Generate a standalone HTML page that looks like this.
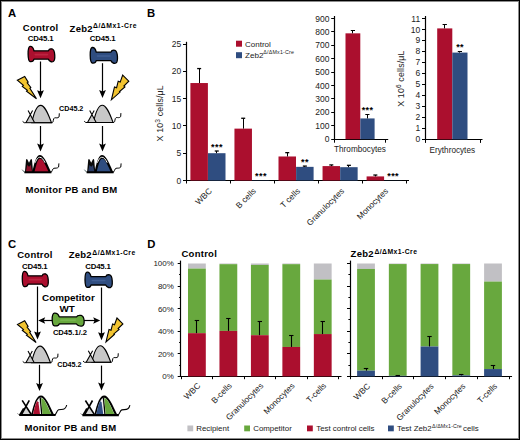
<!DOCTYPE html>
<html><head><meta charset="utf-8"><style>
html,body{margin:0;padding:0;background:#fff;}
#c{position:relative;width:520px;height:440px;overflow:hidden;background:#fff;}
#c svg{position:absolute;left:0;top:0;}
#b{position:absolute;left:0;top:0;width:520px;height:440px;box-sizing:border-box;border:1px solid #000;}
#b2{position:absolute;left:1px;top:1px;width:518px;height:438px;box-sizing:border-box;border:1px solid #8c8c8c;}
</style></head><body><div id="c">
<svg width="520" height="440" viewBox="0 0 520 440" font-family='"Liberation Sans", sans-serif'>
<text x="8" y="16.5" font-size="11.3" font-weight="bold" text-anchor="start" fill="#000" >A</text>
<text x="40.6" y="31" font-size="9.5" font-weight="bold" text-anchor="middle" fill="#000" letter-spacing="0.25">Control</text>
<text x="40.6" y="40.7" font-size="7.8" font-weight="bold" text-anchor="middle" fill="#000" letter-spacing="-0.15">CD45.1</text>
<text x="69.6" y="31.5" font-size="9.5" font-weight="bold" text-anchor="start" fill="#000" letter-spacing="0.25">Zeb2</text>
<text x="93.0" y="28.2" font-size="6.8" font-weight="bold" text-anchor="start" fill="#000" letter-spacing="0.55">Δ/ΔMx1-Cre</text>
<text x="102.6" y="40.8" font-size="7.8" font-weight="bold" text-anchor="middle" fill="#000" letter-spacing="-0.15">CD45.1</text>
<path d="M30.03,46.30 C33.06,46.00 33.56,49.00 33.97,50.80 L48.43,50.80 C48.93,49.00 50.45,48.60 52.27,49.00 C55.20,50.00 55.61,60.20 53.28,61.50 C51.36,62.40 49.14,61.00 48.43,59.20 L33.97,59.20 C33.56,61.00 32.15,61.80 30.13,61.50 C27.50,61.00 27.40,46.80 30.03,46.30 Z" fill="#ab0f2e" stroke="#000" stroke-width="1.3" stroke-linejoin="round"/>
<path d="M35.28,54.60 L47.42,54.60" stroke="#c7354f" stroke-width="1.60" stroke-linecap="round" opacity="0.6"/>
<path d="M92.18,47.51 C95.28,47.20 95.79,50.26 96.21,52.09 L110.98,52.09 C111.50,50.26 113.05,49.85 114.91,50.26 C117.91,51.28 118.32,61.67 115.94,62.99 C113.98,63.91 111.71,62.48 110.98,60.65 L96.21,60.65 C95.79,62.48 94.35,63.30 92.28,62.99 C89.59,62.48 89.49,48.02 92.18,47.51 Z" fill="#2f4d80" stroke="#000" stroke-width="1.3" stroke-linejoin="round"/>
<path d="M97.55,55.96 L109.95,55.96" stroke="#4d6ca3" stroke-width="1.63" stroke-linecap="round" opacity="0.6"/>
<line x1="40.50" y1="61.50" x2="40.50" y2="92.20" stroke="#000" stroke-width="1.2"/>
<path d="M37.1,90.2 L40.5,98.2 L43.9,90.2 L40.5,91.60000000000001 Z" fill="#000"/>
<line x1="102.50" y1="63.20" x2="102.50" y2="92.00" stroke="#000" stroke-width="1.2"/>
<path d="M99.1,90.0 L102.5,98.0 L105.9,90.0 L102.5,91.4 Z" fill="#000"/>
<polygon points="17.30,80.20 24.70,76.40 28.20,82.20 27.20,82.90 30.80,87.50 29.90,88.30 36.50,98.80 26.50,91.20 27.40,90.30 22.30,86.40 23.40,85.30" fill="#f2c431" stroke="#000" stroke-width="1.1" stroke-linejoin="miter"/>
<polygon points="122.70,75.10 128.80,81.20 123.90,86.00 124.90,86.90 119.50,91.50 120.10,92.10 111.40,99.80 114.50,86.90 116.60,87.70 118.20,81.20 120.20,82.10" fill="#f2c431" stroke="#000" stroke-width="1.1" stroke-linejoin="miter"/>
<path d="M31.80,122.70 C34.50,110.00 37.00,105.40 40.70,105.40 C44.50,105.40 47.50,112.00 51.50,122.70 Z" fill="#c8c8c8" stroke="#000" stroke-width="1.1"/>
<path d="M25.90,122.70 L30.40,115.20 L34.40,122.70 Z" fill="#c8c8c8" stroke="none"/>
<path d="M25.90,122.70 L32.60,110.60 M28.10,110.60 L34.60,122.70" fill="none" stroke="#000" stroke-width="1.1"/>
<path d="M22.60,121.40 L24.20,122.70 L52.20,122.70 C53.60,122.60 53.00,118.20 54.60,117.80 C56.20,117.50 57.40,118.60 59.10,116.80 L59.30,113.30" fill="none" stroke="#000" stroke-width="1.0"/>
<path d="M93.40,122.50 C96.10,109.80 98.60,105.20 102.30,105.20 C106.10,105.20 109.10,111.80 113.10,122.50 Z" fill="#c8c8c8" stroke="#000" stroke-width="1.1"/>
<path d="M87.50,122.50 L92.00,115.00 L96.00,122.50 Z" fill="#c8c8c8" stroke="none"/>
<path d="M87.50,122.50 L94.20,110.40 M89.70,110.40 L96.20,122.50" fill="none" stroke="#000" stroke-width="1.1"/>
<path d="M84.20,121.20 L85.80,122.50 L113.80,122.50 C115.20,122.40 114.60,118.00 116.20,117.60 C117.80,117.30 119.00,118.40 120.70,116.60 L120.90,113.10" fill="none" stroke="#000" stroke-width="1.0"/>
<text x="59" y="111.2" font-size="7.2" font-weight="bold" text-anchor="start" fill="#000" >CD45.2</text>
<line x1="40.50" y1="126.00" x2="40.50" y2="145.50" stroke="#000" stroke-width="1.2"/>
<path d="M37.1,143.5 L40.5,151.5 L43.9,143.5 L40.5,144.9 Z" fill="#000"/>
<line x1="102.50" y1="126.00" x2="102.50" y2="145.50" stroke="#000" stroke-width="1.2"/>
<path d="M99.1,143.5 L102.5,151.5 L105.9,143.5 L102.5,144.9 Z" fill="#000"/>
<path d="M32.20,172.30 C35.00,159.90 36.80,155.10 39.80,155.10 C43.20,155.10 46.20,161.00 51.00,172.30 Z" fill="#000"/>
<path d="M34.40,172.30 C36.60,162.70 38.10,158.70 40.00,158.70 C42.40,158.70 44.60,162.90 48.70,172.30 Z" fill="#ab0f2e"/>
<path d="M35.20,162.70 C36.90,158.40 38.30,157.30 39.90,157.30 C41.80,157.30 43.30,159.30 45.00,162.70" fill="none" stroke="#fff" stroke-width="1.0"/>
<path d="M24.90,172.30 L26.00,159.90 C26.20,158.90 27.20,158.90 27.50,159.70 L29.00,162.70 L30.50,159.70 C30.80,158.90 31.80,158.90 32.00,159.90 L33.10,172.30 Z" fill="#0a0a0a"/>
<path d="M25.90,171.70 L27.20,165.10 L29.00,166.70 L30.80,165.10 L32.10,171.70 Z" fill="#8a1028"/>
<path d="M22.20,169.70 L24.50,172.30" fill="none" stroke="#4a6060" stroke-width="0.9"/>
<path d="M24.40,172.30 L51.40,172.30" fill="none" stroke="#000" stroke-width="2.0"/>
<path d="M50.60,172.30 C52.40,172.30 52.20,168.70 53.80,168.30 C55.40,167.90 57.00,168.70 58.60,167.00 L58.90,163.40" fill="none" stroke="#000" stroke-width="1.0"/>
<path d="M94.40,172.30 C97.20,159.90 99.00,155.10 102.00,155.10 C105.40,155.10 108.40,161.00 113.20,172.30 Z" fill="#000"/>
<path d="M96.60,172.30 C98.80,162.70 100.30,158.70 102.20,158.70 C104.60,158.70 106.80,162.90 110.90,172.30 Z" fill="#2f4d80"/>
<path d="M97.40,162.70 C99.10,158.40 100.50,157.30 102.10,157.30 C104.00,157.30 105.50,159.30 107.20,162.70" fill="none" stroke="#fff" stroke-width="1.0"/>
<path d="M87.10,172.30 L88.20,159.90 C88.40,158.90 89.40,158.90 89.70,159.70 L91.20,162.70 L92.70,159.70 C93.00,158.90 94.00,158.90 94.20,159.90 L95.30,172.30 Z" fill="#0a0a0a"/>
<path d="M88.10,171.70 L89.40,165.10 L91.20,166.70 L93.00,165.10 L94.30,171.70 Z" fill="#2a3c66"/>
<path d="M84.40,169.70 L86.70,172.30" fill="none" stroke="#4a6060" stroke-width="0.9"/>
<path d="M86.60,172.30 L113.60,172.30" fill="none" stroke="#000" stroke-width="2.0"/>
<path d="M112.80,172.30 C114.60,172.30 114.40,168.70 116.00,168.30 C117.60,167.90 119.20,168.70 120.80,167.00 L121.10,163.40" fill="none" stroke="#000" stroke-width="1.0"/>
<text x="71.5" y="193.3" font-size="9.5" font-weight="bold" text-anchor="middle" fill="#000" letter-spacing="0.25">Monitor PB and BM</text>
<text x="147" y="16.6" font-size="11.3" font-weight="bold" text-anchor="start" fill="#000" >B</text>
<line x1="186.50" y1="41.80" x2="186.50" y2="181.00" stroke="#000" stroke-width="1.2"/>
<line x1="185.40" y1="180.50" x2="409.00" y2="180.50" stroke="#000" stroke-width="1.2"/>
<line x1="183.00" y1="180.50" x2="186.00" y2="180.50" stroke="#000" stroke-width="1.0"/>
<text x="181.2" y="183.5" font-size="8.5" text-anchor="end" fill="#222" >0</text>
<line x1="183.00" y1="153.50" x2="186.00" y2="153.50" stroke="#000" stroke-width="1.0"/>
<text x="181.2" y="156.2" font-size="8.5" text-anchor="end" fill="#222" >5</text>
<line x1="183.00" y1="125.50" x2="186.00" y2="125.50" stroke="#000" stroke-width="1.0"/>
<text x="181.2" y="128.9" font-size="8.5" text-anchor="end" fill="#222" >10</text>
<line x1="183.00" y1="98.50" x2="186.00" y2="98.50" stroke="#000" stroke-width="1.0"/>
<text x="181.2" y="101.6" font-size="8.5" text-anchor="end" fill="#222" >15</text>
<line x1="183.00" y1="71.50" x2="186.00" y2="71.50" stroke="#000" stroke-width="1.0"/>
<text x="181.2" y="74.3" font-size="8.5" text-anchor="end" fill="#222" >20</text>
<line x1="183.00" y1="44.50" x2="186.00" y2="44.50" stroke="#000" stroke-width="1.0"/>
<text x="181.2" y="47.0" font-size="8.5" text-anchor="end" fill="#222" >25</text>
<line x1="186.50" y1="180.50" x2="186.50" y2="183.50" stroke="#000" stroke-width="1.0"/>
<line x1="230.50" y1="180.50" x2="230.50" y2="183.50" stroke="#000" stroke-width="1.0"/>
<line x1="274.50" y1="180.50" x2="274.50" y2="183.50" stroke="#000" stroke-width="1.0"/>
<line x1="318.50" y1="180.50" x2="318.50" y2="183.50" stroke="#000" stroke-width="1.0"/>
<line x1="362.50" y1="180.50" x2="362.50" y2="183.50" stroke="#000" stroke-width="1.0"/>
<line x1="406.50" y1="180.50" x2="406.50" y2="183.50" stroke="#000" stroke-width="1.0"/>
<rect x="190.40" y="83.04" width="17.50" height="97.46" fill="#ab0f2e"/>
<rect x="208.00" y="153.20" width="17.50" height="27.30" fill="#2f4d80"/>
<line x1="199.50" y1="68.57" x2="199.50" y2="83.04" stroke="#000" stroke-width="1.0"/>
<line x1="197.15" y1="68.57" x2="201.15" y2="68.57" stroke="#000" stroke-width="1.3"/>
<line x1="216.50" y1="151.02" x2="216.50" y2="153.20" stroke="#000" stroke-width="1.0"/>
<line x1="214.75" y1="151.02" x2="218.75" y2="151.02" stroke="#000" stroke-width="1.3"/>
<text x="216.95" y="149.9" font-size="9" font-weight="bold" text-anchor="middle" fill="#000" letter-spacing="0.45">***</text>
<rect x="234.45" y="128.63" width="17.50" height="51.87" fill="#ab0f2e"/>
<rect x="252.05" y="180.23" width="17.50" height="0.27" fill="#2f4d80"/>
<line x1="243.50" y1="118.26" x2="243.50" y2="128.63" stroke="#000" stroke-width="1.0"/>
<line x1="241.20" y1="118.26" x2="245.20" y2="118.26" stroke="#000" stroke-width="1.3"/>
<text x="261.0" y="179.4" font-size="9" font-weight="bold" text-anchor="middle" fill="#000" letter-spacing="0.45">***</text>
<rect x="278.50" y="156.48" width="17.50" height="24.02" fill="#ab0f2e"/>
<rect x="296.10" y="166.85" width="17.50" height="13.65" fill="#2f4d80"/>
<line x1="287.50" y1="152.65" x2="287.50" y2="156.48" stroke="#000" stroke-width="1.0"/>
<line x1="285.25" y1="152.65" x2="289.25" y2="152.65" stroke="#000" stroke-width="1.3"/>
<line x1="304.50" y1="166.09" x2="304.50" y2="166.85" stroke="#000" stroke-width="1.0"/>
<line x1="302.85" y1="166.09" x2="306.85" y2="166.09" stroke="#000" stroke-width="1.3"/>
<text x="305.05" y="165.1" font-size="9" font-weight="bold" text-anchor="middle" fill="#000" letter-spacing="0.45">**</text>
<rect x="322.55" y="166.09" width="17.50" height="14.41" fill="#ab0f2e"/>
<rect x="340.15" y="167.18" width="17.50" height="13.32" fill="#2f4d80"/>
<line x1="331.50" y1="164.94" x2="331.50" y2="166.09" stroke="#000" stroke-width="1.0"/>
<line x1="329.30" y1="164.94" x2="333.30" y2="164.94" stroke="#000" stroke-width="1.3"/>
<line x1="348.50" y1="165.32" x2="348.50" y2="167.18" stroke="#000" stroke-width="1.0"/>
<line x1="346.90" y1="165.32" x2="350.90" y2="165.32" stroke="#000" stroke-width="1.3"/>
<rect x="366.60" y="176.41" width="17.50" height="4.09" fill="#ab0f2e"/>
<rect x="384.20" y="180.34" width="17.50" height="0.16" fill="#2f4d80"/>
<line x1="375.50" y1="175.04" x2="375.50" y2="176.41" stroke="#000" stroke-width="1.0"/>
<line x1="373.35" y1="175.04" x2="377.35" y2="175.04" stroke="#000" stroke-width="1.3"/>
<text x="393.15" y="179.4" font-size="9" font-weight="bold" text-anchor="middle" fill="#000" letter-spacing="0.45">***</text>
<text x="0" y="0" font-size="8.3" text-anchor="end" fill="#222" transform="translate(212.50,191.6) rotate(-45)">WBC</text>
<text x="0" y="0" font-size="8.3" text-anchor="end" fill="#222" transform="translate(256.55,191.6) rotate(-45)">B cells</text>
<text x="0" y="0" font-size="8.3" text-anchor="end" fill="#222" transform="translate(300.60,191.6) rotate(-45)">T cells</text>
<text x="0" y="0" font-size="8.3" text-anchor="end" fill="#222" transform="translate(344.65,191.6) rotate(-45)">Granulocytes</text>
<text x="0" y="0" font-size="8.3" text-anchor="end" fill="#222" transform="translate(388.70,191.6) rotate(-45)">Monocytes</text>
<text x="0" y="0" font-size="8.8" letter-spacing="0.15" text-anchor="middle" fill="#222" transform="translate(163.4,113.3) rotate(-90)">X 10<tspan dy="-3.4" font-size="6.6">3</tspan><tspan dy="3.4"> cells/μL</tspan></text>
<rect x="236.00" y="40.70" width="6.00" height="6.00" fill="#ab0f2e"/>
<text x="245" y="46.5" font-size="8.0" text-anchor="start" fill="#222" >Control</text>
<rect x="236.00" y="52.20" width="6.00" height="6.00" fill="#2f4d80"/>
<text x="245" y="58.0" font-size="8.1" text-anchor="start" fill="#222" >Zeb2</text>
<text x="263.3" y="54.4" font-size="5.3" text-anchor="start" fill="#222" letter-spacing="0.2">Δ/ΔMx1-Cre</text>
<line x1="334.50" y1="16.00" x2="334.50" y2="139.70" stroke="#000" stroke-width="1.2"/>
<line x1="333.60" y1="139.50" x2="388.20" y2="139.50" stroke="#000" stroke-width="1.2"/>
<line x1="331.20" y1="139.50" x2="334.20" y2="139.50" stroke="#000" stroke-width="1.0"/>
<text x="329.4" y="142.2" font-size="8.5" text-anchor="end" fill="#222" >0</text>
<line x1="331.20" y1="125.50" x2="334.20" y2="125.50" stroke="#000" stroke-width="1.0"/>
<text x="329.4" y="128.79999999999998" font-size="8.5" text-anchor="end" fill="#222" >100</text>
<line x1="331.20" y1="112.50" x2="334.20" y2="112.50" stroke="#000" stroke-width="1.0"/>
<text x="329.4" y="115.39999999999999" font-size="8.5" text-anchor="end" fill="#222" >200</text>
<line x1="331.20" y1="98.50" x2="334.20" y2="98.50" stroke="#000" stroke-width="1.0"/>
<text x="329.4" y="101.99999999999999" font-size="8.5" text-anchor="end" fill="#222" >300</text>
<line x1="331.20" y1="85.50" x2="334.20" y2="85.50" stroke="#000" stroke-width="1.0"/>
<text x="329.4" y="88.6" font-size="8.5" text-anchor="end" fill="#222" >400</text>
<line x1="331.20" y1="72.50" x2="334.20" y2="72.50" stroke="#000" stroke-width="1.0"/>
<text x="329.4" y="75.19999999999999" font-size="8.5" text-anchor="end" fill="#222" >500</text>
<line x1="331.20" y1="58.50" x2="334.20" y2="58.50" stroke="#000" stroke-width="1.0"/>
<text x="329.4" y="61.79999999999998" font-size="8.5" text-anchor="end" fill="#222" >600</text>
<line x1="331.20" y1="45.50" x2="334.20" y2="45.50" stroke="#000" stroke-width="1.0"/>
<text x="329.4" y="48.39999999999998" font-size="8.5" text-anchor="end" fill="#222" >700</text>
<line x1="331.20" y1="31.50" x2="334.20" y2="31.50" stroke="#000" stroke-width="1.0"/>
<text x="329.4" y="34.999999999999986" font-size="8.5" text-anchor="end" fill="#222" >800</text>
<line x1="331.20" y1="18.50" x2="334.20" y2="18.50" stroke="#000" stroke-width="1.0"/>
<text x="329.4" y="21.59999999999998" font-size="8.5" text-anchor="end" fill="#222" >900</text>
<line x1="385.50" y1="139.20" x2="385.50" y2="142.70" stroke="#000" stroke-width="1.0"/>
<line x1="334.50" y1="139.20" x2="334.50" y2="142.70" stroke="#000" stroke-width="1.0"/>
<rect x="345.50" y="33.34" width="14.80" height="105.86" fill="#ab0f2e"/>
<rect x="360.30" y="118.43" width="14.30" height="20.77" fill="#2f4d80"/>
<line x1="352.50" y1="30.66" x2="352.50" y2="33.34" stroke="#000" stroke-width="1.0"/>
<line x1="350.80" y1="30.50" x2="355.00" y2="30.50" stroke="#000" stroke-width="1.0"/>
<line x1="367.50" y1="114.01" x2="367.50" y2="118.43" stroke="#000" stroke-width="1.0"/>
<line x1="365.30" y1="114.50" x2="369.50" y2="114.50" stroke="#000" stroke-width="1.0"/>
<text x="367.6" y="112.60000000000001" font-size="9" font-weight="bold" text-anchor="middle" fill="#000" letter-spacing="0.45">***</text>
<text x="360" y="152.4" font-size="8.2" text-anchor="middle" fill="#222" >Thrombocytes</text>
<line x1="425.50" y1="16.00" x2="425.50" y2="139.90" stroke="#000" stroke-width="1.2"/>
<line x1="424.40" y1="139.50" x2="482.50" y2="139.50" stroke="#000" stroke-width="1.2"/>
<line x1="422.00" y1="139.50" x2="425.00" y2="139.50" stroke="#000" stroke-width="1.0"/>
<text x="420.2" y="142.4" font-size="8.5" text-anchor="end" fill="#222" >0</text>
<line x1="422.00" y1="128.50" x2="425.00" y2="128.50" stroke="#000" stroke-width="1.0"/>
<text x="420.2" y="131.41" font-size="8.5" text-anchor="end" fill="#222" >1</text>
<line x1="422.00" y1="117.50" x2="425.00" y2="117.50" stroke="#000" stroke-width="1.0"/>
<text x="420.2" y="120.42" font-size="8.5" text-anchor="end" fill="#222" >2</text>
<line x1="422.00" y1="106.50" x2="425.00" y2="106.50" stroke="#000" stroke-width="1.0"/>
<text x="420.2" y="109.43" font-size="8.5" text-anchor="end" fill="#222" >3</text>
<line x1="422.00" y1="95.50" x2="425.00" y2="95.50" stroke="#000" stroke-width="1.0"/>
<text x="420.2" y="98.44" font-size="8.5" text-anchor="end" fill="#222" >4</text>
<line x1="422.00" y1="84.50" x2="425.00" y2="84.50" stroke="#000" stroke-width="1.0"/>
<text x="420.2" y="87.45" font-size="8.5" text-anchor="end" fill="#222" >5</text>
<line x1="422.00" y1="73.50" x2="425.00" y2="73.50" stroke="#000" stroke-width="1.0"/>
<text x="420.2" y="76.46000000000001" font-size="8.5" text-anchor="end" fill="#222" >6</text>
<line x1="422.00" y1="62.50" x2="425.00" y2="62.50" stroke="#000" stroke-width="1.0"/>
<text x="420.2" y="65.47" font-size="8.5" text-anchor="end" fill="#222" >7</text>
<line x1="422.00" y1="51.50" x2="425.00" y2="51.50" stroke="#000" stroke-width="1.0"/>
<text x="420.2" y="54.480000000000004" font-size="8.5" text-anchor="end" fill="#222" >8</text>
<line x1="422.00" y1="40.50" x2="425.00" y2="40.50" stroke="#000" stroke-width="1.0"/>
<text x="420.2" y="43.49000000000001" font-size="8.5" text-anchor="end" fill="#222" >9</text>
<line x1="422.00" y1="29.50" x2="425.00" y2="29.50" stroke="#000" stroke-width="1.0"/>
<text x="420.2" y="32.5" font-size="8.5" text-anchor="end" fill="#222" >10</text>
<line x1="422.00" y1="18.50" x2="425.00" y2="18.50" stroke="#000" stroke-width="1.0"/>
<text x="420.2" y="21.510000000000005" font-size="8.5" text-anchor="end" fill="#222" >11</text>
<line x1="480.50" y1="139.40" x2="480.50" y2="142.90" stroke="#000" stroke-width="1.0"/>
<line x1="425.50" y1="139.40" x2="425.50" y2="142.90" stroke="#000" stroke-width="1.0"/>
<rect x="437.20" y="28.40" width="15.10" height="111.00" fill="#ab0f2e"/>
<rect x="452.30" y="52.58" width="15.20" height="86.82" fill="#2f4d80"/>
<line x1="444.50" y1="24.55" x2="444.50" y2="28.40" stroke="#000" stroke-width="1.0"/>
<line x1="442.60" y1="24.50" x2="446.90" y2="24.50" stroke="#000" stroke-width="1.0"/>
<line x1="459.50" y1="51.48" x2="459.50" y2="52.58" stroke="#000" stroke-width="1.0"/>
<line x1="457.80" y1="51.50" x2="462.00" y2="51.50" stroke="#000" stroke-width="1.0"/>
<text x="460.1" y="50.199999999999996" font-size="9" font-weight="bold" text-anchor="middle" fill="#000" letter-spacing="0.45">**</text>
<text x="452.3" y="152.7" font-size="8.2" text-anchor="middle" fill="#222" >Erythrocytes</text>
<text x="0" y="0" font-size="8.8" letter-spacing="0.15" text-anchor="middle" fill="#222" transform="translate(404.4,78.6) rotate(-90)">X 10<tspan dy="-3.4" font-size="6.6">6</tspan><tspan dy="3.4"> cells/μL</tspan></text>
<text x="8" y="247.6" font-size="11.3" font-weight="bold" text-anchor="start" fill="#000" >C</text>
<text x="35" y="258" font-size="9.5" font-weight="bold" text-anchor="middle" fill="#000" letter-spacing="0.25">Control</text>
<text x="34.8" y="268.8" font-size="7.8" font-weight="bold" text-anchor="middle" fill="#000" letter-spacing="-0.15">CD45.1</text>
<text x="68.7" y="258" font-size="9.5" font-weight="bold" text-anchor="start" fill="#000" letter-spacing="0.25">Zeb2</text>
<text x="92.3" y="255.0" font-size="6.8" font-weight="bold" text-anchor="start" fill="#000" letter-spacing="0.5">Δ/ΔMx1-Cre</text>
<text x="98" y="268.8" font-size="7.8" font-weight="bold" text-anchor="middle" fill="#000" letter-spacing="-0.15">CD45.1</text>
<path d="M24.17,271.30 C27.12,271.00 27.61,274.00 28.01,275.80 L42.10,275.80 C42.59,274.00 44.07,273.60 45.84,274.00 C48.70,275.00 49.09,285.20 46.83,286.50 C44.95,287.40 42.79,286.00 42.10,284.20 L28.01,284.20 C27.61,286.00 26.23,286.80 24.26,286.50 C21.70,286.00 21.60,271.80 24.17,271.30 Z" fill="#ab0f2e" stroke="#000" stroke-width="1.3" stroke-linejoin="round"/>
<path d="M29.29,279.60 L41.11,279.60" stroke="#c7354f" stroke-width="1.60" stroke-linecap="round" opacity="0.6"/>
<path d="M86.98,272.20 C90.08,271.90 90.59,274.88 91.01,276.67 L105.78,276.67 C106.30,274.88 107.85,274.48 109.71,274.88 C112.71,275.88 113.12,286.01 110.74,287.30 C108.78,288.20 106.51,286.81 105.78,285.02 L91.01,285.02 C90.59,286.81 89.15,287.60 87.08,287.30 C84.39,286.81 84.29,272.69 86.98,272.20 Z" fill="#2f4d80" stroke="#000" stroke-width="1.3" stroke-linejoin="round"/>
<path d="M92.35,280.45 L104.75,280.45" stroke="#4d6ca3" stroke-width="1.59" stroke-linecap="round" opacity="0.6"/>
<line x1="37.50" y1="286.50" x2="37.50" y2="333.40" stroke="#000" stroke-width="1.2"/>
<path d="M34.1,331.4 L37.5,339.4 L40.9,331.4 L37.5,332.79999999999995 Z" fill="#000"/>
<line x1="101.50" y1="287.50" x2="101.50" y2="334.20" stroke="#000" stroke-width="1.2"/>
<path d="M98.1,332.2 L101.5,340.2 L104.9,332.2 L101.5,333.59999999999997 Z" fill="#000"/>
<text x="68.4" y="301.4" font-size="9.9" font-weight="bold" text-anchor="middle" fill="#000" >Competitor</text>
<text x="67.1" y="312.2" font-size="9.9" font-weight="bold" text-anchor="middle" fill="#000" >WT</text>
<line x1="53.00" y1="320.50" x2="43.20" y2="320.50" stroke="#000" stroke-width="1.2"/>
<path d="M45.2,317.3 L38.2,320.5 L45.2,323.7 L43.800000000000004,320.5 Z" fill="#000"/>
<line x1="83.00" y1="320.50" x2="95.20" y2="320.50" stroke="#000" stroke-width="1.2"/>
<path d="M93.2,317.3 L100.2,320.5 L93.2,323.7 L94.60000000000001,320.5 Z" fill="#000"/>
<path d="M54.49,313.15 C58.12,312.90 58.72,315.41 59.21,316.92 L76.53,316.92 C77.13,315.41 78.95,315.08 81.13,315.41 C84.64,316.25 85.13,324.79 82.34,325.88 C80.04,326.63 77.38,325.46 76.53,323.95 L59.21,323.95 C58.72,325.46 57.03,326.13 54.61,325.88 C51.46,325.46 51.34,313.57 54.49,313.15 Z" fill="#68a83e" stroke="#000" stroke-width="1.3" stroke-linejoin="round"/>
<path d="M60.78,320.10 L75.32,320.10" stroke="#8cc865" stroke-width="1.34" stroke-linecap="round" opacity="0.6"/>
<text x="70" y="335.4" font-size="7.6" font-weight="bold" text-anchor="middle" fill="#000" >CD45.1/.2</text>
<polygon points="17.50,324.49 24.68,320.80 28.07,326.43 27.10,327.11 30.59,331.57 29.72,332.34 36.12,342.53 26.42,335.16 27.30,334.28 22.35,330.50 23.42,329.43" fill="#f2c431" stroke="#000" stroke-width="1.1" stroke-linejoin="miter"/>
<polygon points="116.96,318.00 122.88,323.92 118.12,328.57 119.09,329.45 113.86,333.91 114.44,334.49 106.00,341.96 109.01,329.45 111.04,330.22 112.60,323.92 114.54,324.79" fill="#f2c431" stroke="#000" stroke-width="1.1" stroke-linejoin="miter"/>
<path d="M31.56,362.70 C34.16,350.51 36.56,346.09 40.11,346.09 C43.76,346.09 46.64,352.43 50.48,362.70 Z" fill="#c8c8c8" stroke="#000" stroke-width="1.1"/>
<path d="M25.90,362.70 L30.22,355.50 L34.06,362.70 Z" fill="#c8c8c8" stroke="none"/>
<path d="M25.90,362.70 L32.33,351.08 M28.01,351.08 L34.25,362.70" fill="none" stroke="#000" stroke-width="1.1"/>
<path d="M22.73,361.45 L24.27,362.70 L51.15,362.70 C52.49,362.60 51.92,358.38 53.45,358.00 C54.99,357.71 56.14,358.76 57.77,357.04 L57.96,353.68" fill="none" stroke="#000" stroke-width="1.0"/>
<path d="M91.86,362.30 C94.46,350.11 96.86,345.69 100.41,345.69 C104.06,345.69 106.94,352.03 110.78,362.30 Z" fill="#c8c8c8" stroke="#000" stroke-width="1.1"/>
<path d="M86.20,362.30 L90.52,355.10 L94.36,362.30 Z" fill="#c8c8c8" stroke="none"/>
<path d="M86.20,362.30 L92.63,350.68 M88.31,350.68 L94.55,362.30" fill="none" stroke="#000" stroke-width="1.1"/>
<path d="M83.03,361.05 L84.57,362.30 L111.45,362.30 C112.79,362.20 112.22,357.98 113.75,357.60 C115.29,357.31 116.44,358.36 118.07,356.64 L118.26,353.28" fill="none" stroke="#000" stroke-width="1.0"/>
<text x="69.4" y="366.7" font-size="7.2" font-weight="bold" text-anchor="middle" fill="#000" >CD45.2</text>
<line x1="39.50" y1="364.80" x2="39.50" y2="385.00" stroke="#000" stroke-width="1.2"/>
<path d="M36.1,383.0 L39.5,391 L42.9,383.0 L39.5,384.4 Z" fill="#000"/>
<line x1="101.50" y1="365.60" x2="101.50" y2="384.50" stroke="#000" stroke-width="1.2"/>
<path d="M98.1,382.5 L101.5,390.5 L104.9,382.5 L101.5,383.9 Z" fill="#000"/>
<path d="M31.10,415.00 C34.00,402.50 36.80,395.40 41.00,395.40 C45.20,395.40 48.80,403.50 54.20,415.00 Z" fill="#000"/>
<path d="M32.90,415.00 C35.20,404.10 37.40,397.60 40.80,397.60 C44.20,397.60 47.10,404.60 51.80,415.00 Z" fill="#f0f0f0"/>
<path d="M33.10,414.50 C34.00,409.50 35.20,404.60 37.00,400.90 L38.40,402.30 L40.10,414.50 Z" fill="#ab0f2e"/>
<path d="M40.20,397.60 L41.80,414.70" stroke="#000" stroke-width="1.3" fill="none"/>
<path d="M41.10,398.00 C44.40,398.20 46.90,405.20 51.40,414.50 L42.50,414.50 Z" fill="#68a83e"/>
<path d="M22.20,414.70 L26.00,407.00 L30.60,414.70 Z" fill="#d4d4d4"/>
<path d="M21.20,415.00 L29.30,400.40 M22.20,400.40 L31.60,415.00" fill="none" stroke="#000" stroke-width="1.6"/>
<path d="M19.80,415.00 L23.70,408.40" fill="none" stroke="#000" stroke-width="1.6"/>
<path d="M17.30,413.40 L19.30,415.00" fill="none" stroke="#888" stroke-width="0.9"/>
<path d="M19.20,415.00 L55.60,415.00" fill="none" stroke="#000" stroke-width="2.1"/>
<path d="M54.40,415.00 C56.60,415.00 56.40,410.40 58.60,409.80 C60.80,409.20 62.80,410.00 64.70,408.60 C66.10,407.60 66.40,406.40 66.70,405.00" fill="none" stroke="#000" stroke-width="1.1"/>
<path d="M94.30,415.10 C97.20,402.60 100.00,395.50 104.20,395.50 C108.40,395.50 112.00,403.60 117.40,415.10 Z" fill="#000"/>
<path d="M96.10,415.10 C98.40,404.20 100.60,397.70 104.00,397.70 C107.40,397.70 110.30,404.70 115.00,415.10 Z" fill="#f0f0f0"/>
<path d="M96.30,414.60 C97.20,409.60 98.40,404.70 100.20,401.00 L101.60,402.40 L103.30,414.60 Z" fill="#2f4d80"/>
<path d="M103.40,397.70 L105.00,414.80" stroke="#000" stroke-width="1.3" fill="none"/>
<path d="M104.30,398.10 C107.60,398.30 110.10,405.30 114.60,414.60 L105.70,414.60 Z" fill="#68a83e"/>
<path d="M85.40,414.80 L89.20,407.10 L93.80,414.80 Z" fill="#d4d4d4"/>
<path d="M84.40,415.10 L92.50,400.50 M85.40,400.50 L94.80,415.10" fill="none" stroke="#000" stroke-width="1.6"/>
<path d="M83.00,415.10 L86.90,408.50" fill="none" stroke="#000" stroke-width="1.6"/>
<path d="M80.50,413.50 L82.50,415.10" fill="none" stroke="#888" stroke-width="0.9"/>
<path d="M82.40,415.10 L118.80,415.10" fill="none" stroke="#000" stroke-width="2.1"/>
<path d="M117.60,415.10 C119.80,415.10 119.60,410.50 121.80,409.90 C124.00,409.30 126.00,410.10 127.90,408.70 C129.30,407.70 129.60,406.50 129.90,405.10" fill="none" stroke="#000" stroke-width="1.1"/>
<text x="70.4" y="431" font-size="9.5" font-weight="bold" text-anchor="middle" fill="#000" letter-spacing="0.25">Monitor PB and BM</text>
<text x="147.3" y="248.4" font-size="11.3" font-weight="bold" text-anchor="start" fill="#000" >D</text>
<text x="181.5" y="256.8" font-size="9.5" font-weight="bold" text-anchor="start" fill="#000" letter-spacing="0.25">Control</text>
<text x="350.6" y="257.3" font-size="9.5" font-weight="bold" text-anchor="start" fill="#000" letter-spacing="0.25">Zeb2</text>
<text x="374.4" y="254.0" font-size="6.8" font-weight="bold" text-anchor="start" fill="#000" letter-spacing="0.45">Δ/ΔMx1-Cre</text>
<line x1="180.50" y1="260.60" x2="180.50" y2="376.90" stroke="#000" stroke-width="1.2"/>
<line x1="180.30" y1="376.50" x2="341.50" y2="376.50" stroke="#000" stroke-width="1.2"/>
<line x1="177.70" y1="376.50" x2="180.90" y2="376.50" stroke="#000" stroke-width="1.0"/>
<text x="173.9" y="379.29999999999995" font-size="8.0" text-anchor="end" fill="#222" >0%</text>
<line x1="179.10" y1="365.50" x2="180.90" y2="365.50" stroke="#000" stroke-width="1.0"/>
<line x1="177.70" y1="353.50" x2="180.90" y2="353.50" stroke="#000" stroke-width="1.0"/>
<text x="173.9" y="356.71999999999997" font-size="8.0" text-anchor="end" fill="#222" >20%</text>
<line x1="179.10" y1="342.50" x2="180.90" y2="342.50" stroke="#000" stroke-width="1.0"/>
<line x1="177.70" y1="331.50" x2="180.90" y2="331.50" stroke="#000" stroke-width="1.0"/>
<text x="173.9" y="334.14" font-size="8.0" text-anchor="end" fill="#222" >40%</text>
<line x1="179.10" y1="319.50" x2="180.90" y2="319.50" stroke="#000" stroke-width="1.0"/>
<line x1="177.70" y1="308.50" x2="180.90" y2="308.50" stroke="#000" stroke-width="1.0"/>
<text x="173.9" y="311.55999999999995" font-size="8.0" text-anchor="end" fill="#222" >60%</text>
<line x1="179.10" y1="297.50" x2="180.90" y2="297.50" stroke="#000" stroke-width="1.0"/>
<line x1="177.70" y1="286.50" x2="180.90" y2="286.50" stroke="#000" stroke-width="1.0"/>
<text x="173.9" y="288.97999999999996" font-size="8.0" text-anchor="end" fill="#222" >80%</text>
<line x1="179.10" y1="274.50" x2="180.90" y2="274.50" stroke="#000" stroke-width="1.0"/>
<line x1="177.70" y1="263.50" x2="180.90" y2="263.50" stroke="#000" stroke-width="1.0"/>
<text x="173.9" y="266.4" font-size="8.0" text-anchor="end" fill="#222" >100%</text>
<line x1="181.50" y1="376.40" x2="181.50" y2="379.20" stroke="#000" stroke-width="1.0"/>
<line x1="212.50" y1="376.40" x2="212.50" y2="379.20" stroke="#000" stroke-width="1.0"/>
<line x1="244.50" y1="376.40" x2="244.50" y2="379.20" stroke="#000" stroke-width="1.0"/>
<line x1="275.50" y1="376.40" x2="275.50" y2="379.20" stroke="#000" stroke-width="1.0"/>
<line x1="307.50" y1="376.40" x2="307.50" y2="379.20" stroke="#000" stroke-width="1.0"/>
<line x1="338.50" y1="376.40" x2="338.50" y2="379.20" stroke="#000" stroke-width="1.0"/>
<rect x="188.00" y="263.50" width="17.80" height="5.08" fill="#c1c0c4"/>
<rect x="188.00" y="268.58" width="17.80" height="64.58" fill="#68a83e"/>
<rect x="188.00" y="333.16" width="17.80" height="43.24" fill="#ab0f2e"/>
<line x1="196.50" y1="320.85" x2="196.50" y2="333.16" stroke="#000" stroke-width="1.1"/>
<line x1="194.70" y1="320.50" x2="199.10" y2="320.50" stroke="#000" stroke-width="1.1"/>
<text x="0" y="0" font-size="8.3" text-anchor="end" fill="#222" transform="translate(200.90,386.30) rotate(-45)">WBC</text>
<rect x="219.46" y="263.50" width="17.80" height="0.68" fill="#c1c0c4"/>
<rect x="219.46" y="264.18" width="17.80" height="66.72" fill="#68a83e"/>
<rect x="219.46" y="330.90" width="17.80" height="45.50" fill="#ab0f2e"/>
<line x1="228.50" y1="318.60" x2="228.50" y2="330.90" stroke="#000" stroke-width="1.1"/>
<line x1="226.16" y1="318.50" x2="230.56" y2="318.50" stroke="#000" stroke-width="1.1"/>
<text x="0" y="0" font-size="8.3" text-anchor="end" fill="#222" transform="translate(232.36,386.30) rotate(-45)">B-cells</text>
<rect x="250.92" y="263.50" width="17.80" height="1.47" fill="#c1c0c4"/>
<rect x="250.92" y="264.97" width="17.80" height="70.22" fill="#68a83e"/>
<rect x="250.92" y="335.19" width="17.80" height="41.21" fill="#ab0f2e"/>
<line x1="259.50" y1="321.76" x2="259.50" y2="335.19" stroke="#000" stroke-width="1.1"/>
<line x1="257.62" y1="321.50" x2="262.02" y2="321.50" stroke="#000" stroke-width="1.1"/>
<text x="0" y="0" font-size="8.3" text-anchor="end" fill="#222" transform="translate(263.82,386.30) rotate(-45)">Granulocytes</text>
<rect x="282.38" y="263.50" width="17.80" height="0.68" fill="#c1c0c4"/>
<rect x="282.38" y="264.18" width="17.80" height="82.76" fill="#68a83e"/>
<rect x="282.38" y="346.93" width="17.80" height="29.47" fill="#ab0f2e"/>
<line x1="291.50" y1="335.19" x2="291.50" y2="346.93" stroke="#000" stroke-width="1.1"/>
<line x1="289.08" y1="335.50" x2="293.48" y2="335.50" stroke="#000" stroke-width="1.1"/>
<text x="0" y="0" font-size="8.3" text-anchor="end" fill="#222" transform="translate(295.28,386.30) rotate(-45)">Monocytes</text>
<rect x="313.84" y="263.50" width="17.80" height="16.03" fill="#c1c0c4"/>
<rect x="313.84" y="279.53" width="17.80" height="54.53" fill="#68a83e"/>
<rect x="313.84" y="334.06" width="17.80" height="42.34" fill="#ab0f2e"/>
<line x1="322.50" y1="321.76" x2="322.50" y2="334.06" stroke="#000" stroke-width="1.1"/>
<line x1="320.54" y1="321.50" x2="324.94" y2="321.50" stroke="#000" stroke-width="1.1"/>
<text x="0" y="0" font-size="8.3" text-anchor="end" fill="#222" transform="translate(326.74,386.30) rotate(-45)">T-cells</text>
<line x1="350.50" y1="260.60" x2="350.50" y2="376.90" stroke="#000" stroke-width="1.2"/>
<line x1="349.60" y1="376.50" x2="512.05" y2="376.50" stroke="#000" stroke-width="1.2"/>
<line x1="347.00" y1="376.50" x2="350.20" y2="376.50" stroke="#000" stroke-width="1.0"/>
<line x1="348.40" y1="365.50" x2="350.20" y2="365.50" stroke="#000" stroke-width="1.0"/>
<line x1="347.00" y1="353.50" x2="350.20" y2="353.50" stroke="#000" stroke-width="1.0"/>
<line x1="348.40" y1="342.50" x2="350.20" y2="342.50" stroke="#000" stroke-width="1.0"/>
<line x1="347.00" y1="331.50" x2="350.20" y2="331.50" stroke="#000" stroke-width="1.0"/>
<line x1="348.40" y1="319.50" x2="350.20" y2="319.50" stroke="#000" stroke-width="1.0"/>
<line x1="347.00" y1="308.50" x2="350.20" y2="308.50" stroke="#000" stroke-width="1.0"/>
<line x1="348.40" y1="297.50" x2="350.20" y2="297.50" stroke="#000" stroke-width="1.0"/>
<line x1="347.00" y1="286.50" x2="350.20" y2="286.50" stroke="#000" stroke-width="1.0"/>
<line x1="348.40" y1="274.50" x2="350.20" y2="274.50" stroke="#000" stroke-width="1.0"/>
<line x1="347.00" y1="263.50" x2="350.20" y2="263.50" stroke="#000" stroke-width="1.0"/>
<line x1="350.50" y1="376.40" x2="350.50" y2="379.20" stroke="#000" stroke-width="1.0"/>
<line x1="382.50" y1="376.40" x2="382.50" y2="379.20" stroke="#000" stroke-width="1.0"/>
<line x1="413.50" y1="376.40" x2="413.50" y2="379.20" stroke="#000" stroke-width="1.0"/>
<line x1="445.50" y1="376.40" x2="445.50" y2="379.20" stroke="#000" stroke-width="1.0"/>
<line x1="477.50" y1="376.40" x2="477.50" y2="379.20" stroke="#000" stroke-width="1.0"/>
<line x1="509.50" y1="376.40" x2="509.50" y2="379.20" stroke="#000" stroke-width="1.0"/>
<rect x="357.10" y="263.50" width="17.80" height="5.42" fill="#c1c0c4"/>
<rect x="357.10" y="268.92" width="17.80" height="101.72" fill="#68a83e"/>
<rect x="357.10" y="370.64" width="17.80" height="5.76" fill="#2f4d80"/>
<line x1="366.50" y1="368.72" x2="366.50" y2="370.64" stroke="#000" stroke-width="1.1"/>
<line x1="363.80" y1="368.50" x2="368.20" y2="368.50" stroke="#000" stroke-width="1.1"/>
<text x="0" y="0" font-size="8.3" text-anchor="end" fill="#222" transform="translate(370.70,386.70) rotate(-45)">WBC</text>
<rect x="388.85" y="263.50" width="17.80" height="0.56" fill="#c1c0c4"/>
<rect x="388.85" y="264.06" width="17.80" height="111.77" fill="#68a83e"/>
<rect x="388.85" y="375.84" width="17.80" height="0.56" fill="#2f4d80"/>
<line x1="397.50" y1="375.50" x2="397.50" y2="375.84" stroke="#000" stroke-width="1.1"/>
<line x1="395.55" y1="375.50" x2="399.95" y2="375.50" stroke="#000" stroke-width="1.1"/>
<text x="0" y="0" font-size="8.3" text-anchor="end" fill="#222" transform="translate(402.45,386.70) rotate(-45)">B-cells</text>
<rect x="420.60" y="263.50" width="17.80" height="0.56" fill="#c1c0c4"/>
<rect x="420.60" y="264.06" width="17.80" height="82.42" fill="#68a83e"/>
<rect x="420.60" y="346.48" width="17.80" height="29.92" fill="#2f4d80"/>
<line x1="429.50" y1="336.32" x2="429.50" y2="346.48" stroke="#000" stroke-width="1.1"/>
<line x1="427.30" y1="336.50" x2="431.70" y2="336.50" stroke="#000" stroke-width="1.1"/>
<text x="0" y="0" font-size="8.3" text-anchor="end" fill="#222" transform="translate(434.20,386.70) rotate(-45)">Granulocytes</text>
<rect x="452.35" y="263.50" width="17.80" height="0.56" fill="#c1c0c4"/>
<rect x="452.35" y="264.06" width="17.80" height="111.32" fill="#68a83e"/>
<rect x="452.35" y="375.38" width="17.80" height="1.02" fill="#2f4d80"/>
<line x1="461.50" y1="374.82" x2="461.50" y2="375.38" stroke="#000" stroke-width="1.1"/>
<line x1="459.05" y1="374.50" x2="463.45" y2="374.50" stroke="#000" stroke-width="1.1"/>
<text x="0" y="0" font-size="8.3" text-anchor="end" fill="#222" transform="translate(465.95,386.70) rotate(-45)">Monocytes</text>
<rect x="484.10" y="263.50" width="17.80" height="18.06" fill="#c1c0c4"/>
<rect x="484.10" y="281.56" width="17.80" height="87.50" fill="#68a83e"/>
<rect x="484.10" y="369.06" width="17.80" height="7.34" fill="#2f4d80"/>
<line x1="493.50" y1="365.67" x2="493.50" y2="369.06" stroke="#000" stroke-width="1.1"/>
<line x1="490.80" y1="365.50" x2="495.20" y2="365.50" stroke="#000" stroke-width="1.1"/>
<text x="0" y="0" font-size="8.3" text-anchor="end" fill="#222" transform="translate(497.70,386.70) rotate(-45)">T-cells</text>
<rect x="187.40" y="425.50" width="5.80" height="5.80" fill="#c1c0c4"/>
<text x="196.2" y="431.1" font-size="7.9" text-anchor="start" fill="#222" >Recipient</text>
<rect x="244.20" y="425.50" width="5.80" height="5.80" fill="#68a83e"/>
<text x="253.2" y="431.1" font-size="7.9" text-anchor="start" fill="#222" >Competitor</text>
<rect x="307.00" y="425.50" width="5.80" height="5.80" fill="#ab0f2e"/>
<text x="316.2" y="431.1" font-size="7.9" text-anchor="start" fill="#222" >Test control cells</text>
<rect x="388.00" y="425.50" width="5.80" height="5.80" fill="#2f4d80"/>
<text x="397.0" y="431.1" font-size="7.9" text-anchor="start" fill="#222" >Test Zeb2</text>
<text x="432.0" y="427.6" font-size="5.3" text-anchor="start" fill="#222" letter-spacing="0.1">Δ/ΔMx1-Cre</text>
<text x="463.0" y="431.1" font-size="7.9" text-anchor="start" fill="#222" >cells</text>
</svg><div id="b"></div><div id="b2"></div></div></body></html>
